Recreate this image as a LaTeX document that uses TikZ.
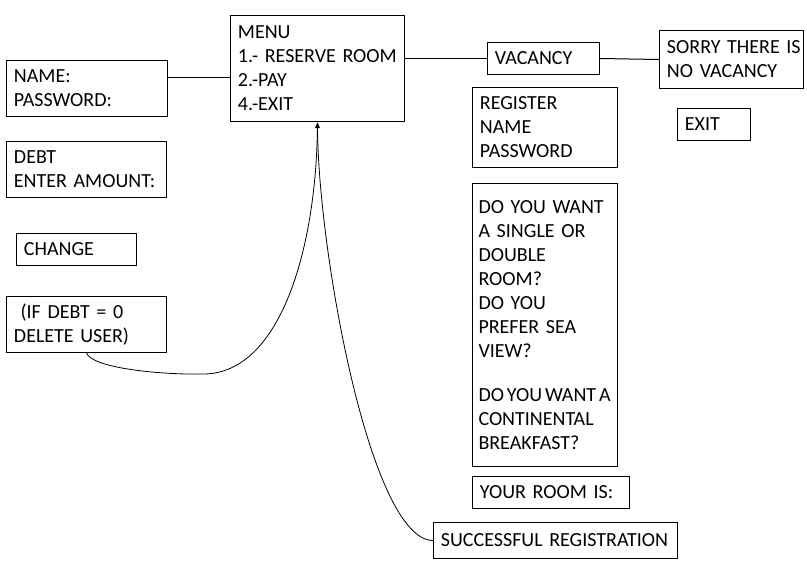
\documentclass[tikz,border=0pt]{standalone}
\usepackage{fontspec}
\setmainfont{Carlito}
\usetikzlibrary{arrows.meta,calc}

\begin{document}
\begin{tikzpicture}[
    x=0.75pt, y=-0.75pt,
    font=\fontsize{15pt}{18pt}\selectfont,
    box/.style 2 args={draw, line width=0.75pt, anchor=north west, inner sep=0pt, text width=#1*0.75pt, minimum height=#2*0.75pt, align=left, execute at begin node={\leftskip=5.6pt}},
    link/.style={line width=0.75pt},
    arr/.style={-{Latex[length=4.5pt, width=3.6pt]}, line width=0.6pt}
]
    \useasboundingbox (0,0) rectangle (807,561);

    % Left column
    \node[box={161}{56}] (login) at (6,60) {NAME:\\PASSWORD:};
    \node[box={160}{56}] (debt) at (6,141) {DEBT\\ENTER AMOUNT:};
    \node[box={120}{32}] (change) at (16,233) {CHANGE};
    \node[box={160}{56}] (deluser) at (6,296) {\ (IF DEBT = 0\\DELETE USER)};

    % Menu
    \node[box={174}{106}] (menu) at (230,15) {MENU\\1.- RESERVE ROOM\\2.-PAY\\4.-EXIT};

    % Reservation path
    \node[box={112}{32}] (vacancy) at (487,42) {VACANCY};
    \node[box={144}{58}] (novac) at (659,30) {SORRY THERE IS\\NO VACANCY};
    \node[box={73}{32}] (exit) at (677,108) {EXIT};
    \node[box={145}{80}] (register) at (472,87) {REGISTER\\NAME\\PASSWORD};
    \node[box={145}{283}, execute at begin node={\leftskip=4.5pt}] (prefs) at (472,183) {DO YOU WANT\\A SINGLE OR\\DOUBLE\\ROOM?\\DO YOU\\PREFER SEA\\VIEW?\\[15pt]\mbox{\spaceskip=2.2pt DO YOU WANT A}\\CONTINENTAL\\BREAKFAST?};
    \node[box={157}{32}] (room) at (472,476) {YOUR ROOM IS:};
    \node[box={244}{36}] (success) at (433,522) {SUCCESSFUL REGISTRATION};

    % Connections
    \draw[link] ($(login.north east)!0.3!(login.south east)$) coordinate (lk) -- (lk -| menu.west);
    \draw[link] (vacancy.west -| menu.east) -- (vacancy.west);
    \draw[link] (vacancy.east) -- (novac.west);

    % Back to menu
    \coordinate (dip) at (205,374);
    \draw[arr] (deluser.south) .. controls (92,368) and (160,375) .. (dip) .. controls (280,372) and (316,250) .. (menu.south);
    \draw[arr] (success.west) .. controls (370,540) and (318,250) .. (menu.south);
\end{tikzpicture}
\end{document}
